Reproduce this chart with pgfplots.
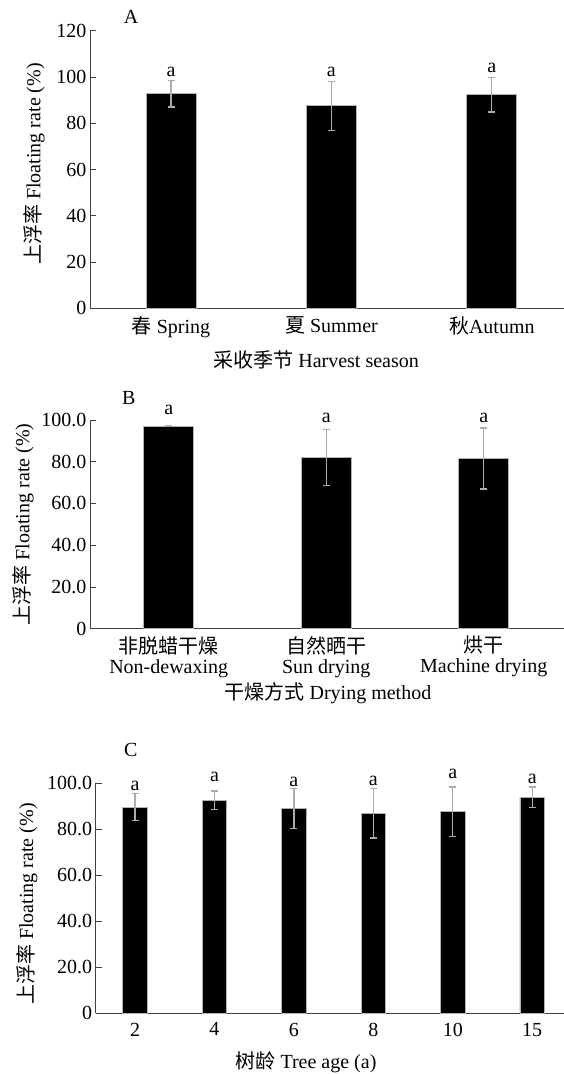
\documentclass[border=0pt]{standalone}
\usepackage{pgfplots}
\pgfplotsset{compat=1.18}
\usepackage{fontspec}
\setmainfont{Liberation Serif}
\newfontfamily\cjk{Noto Sans CJK SC}

\pgfplotstableread{
x y e
0 92.7 5.7
1 87.5 10.5
2 92.3 7.4
}\dataA
\pgfplotstableread{
x y e
0 97.1 0.3
1 82.0 13.5
2 81.5 14.6
}\dataB
\pgfplotstableread{
x y e
0 89.7 6.0
1 92.6 4.1
2 89.1 8.6
3 87.0 10.8
4 87.6 10.8
5 93.9 4.5
}\dataC

\pgfplotsset{
  myaxis/.style={
    scale only axis,
    axis x line*=bottom, axis y line*=left,
    axis line style={black!75, line width=0.9bp},
    every tick/.style={black!75, line width=0.9bp},
    tick align=inside, major tick length=6bp,
    x tick style={draw=none},
    xtick=data, ymin=0,
    clip=false,
    /pgf/number format/assume math mode=true,
    ylabel={{\cjk 上浮率} Floating rate (\%)},
  },
  mybars/.style={
    ybar, fill=black, draw=gray!60, line width=0.8bp, bar width=#1,
    error bars/.cd, y dir=both, y explicit,
    error bar style={gray!65, line width=1.3bp},
    error mark options={rotate=90, gray!65, mark size=3.5bp, line width=1.3bp},
  },
}

\begin{document}
\begin{tikzpicture}[font=\fontsize{20bp}{22bp}\selectfont]
\path[use as bounding box] (0,0) rectangle (564bp,-1074bp);

% Panel A
\begin{axis}[myaxis,
  at={(90bp,-308.3bp)}, anchor=south west,
  width=474bp, height=277.6bp,
  xmin=-0.505, xmax=2.45, ymax=120,
  ytick={0,20,40,60,80,100,120},
  xticklabel style={yshift=-5bp},
  xticklabels={{{\cjk 春} Spring},{{\cjk 夏} Summer},{{\cjk 秋}Autumn}},
  xlabel={{\cjk 采收季节} Harvest season},
  ylabel style={at={(axis description cs:-0.118,0.52)}, anchor=center},
  xlabel style={at={(axis description cs:0.477,-0.186)}, anchor=center},
]
\addplot[mybars=50bp] table[x=x, y=y, y error=e] {\dataA};
\node at (axis cs:0,102.3) {a};
\node at (axis cs:1,102.3) {a};
\node at (axis cs:2,103.8) {a};
\node at (rel axis cs:0.0865,1.049) {A};
\end{axis}

% Panel B
\begin{axis}[myaxis,
  at={(90bp,-628.7bp)}, anchor=south west,
  width=474bp, height=208.7bp,
  xmin=-0.50, xmax=2.51, ymax=100,
  ytick={0,20,40,60,80,100},
  yticklabels={0,20.0,40.0,60.0,80.0,100.0},
  xticklabel style={align=center, font=\fontsize{20bp}{20bp}\selectfont, yshift=-4bp},
  xticklabels={{{\cjk 非脱蜡干燥}\\Non-dewaxing},{{\cjk 自然晒干}\\Sun drying},{{\cjk 烘干}\\Machine drying}},
  xlabel={{\cjk 干燥方式} Drying method},
  ylabel style={at={(axis description cs:-0.141,0.5)}, anchor=center},
  xlabel style={at={(axis description cs:0.502,-0.308)}, anchor=center},
]
\addplot[mybars=50bp] table[x=x, y=y, y error=e] {\dataB};
\node at (axis cs:0,104.8) {a};
\node at (axis cs:1,100.8) {a};
\node at (axis cs:2,100.8) {a};
\node at (rel axis cs:0.082,1.105) {B};
\end{axis}

% Panel C
\begin{axis}[myaxis,
  at={(95.7bp,-1013.3bp)}, anchor=south west,
  width=468.3bp, height=230bp,
  xmin=-0.495, xmax=5.40, ymax=100,
  ytick={0,20,40,60,80,100},
  yticklabels={0,20.0,40.0,60.0,80.0,100.0},
  xticklabel style={yshift=-6bp},
  xticklabels={2,4,6,8,10,15},
  xlabel={{\cjk 树龄} Tree age (a)},
  ylabel style={at={(axis description cs:-0.147,0.475)}, anchor=center},
  xlabel style={at={(axis description cs:0.449,-0.212)}, anchor=center},
]
\addplot[mybars=24.5bp] table[x=x, y=y, y error=e] {\dataC};
\node at (axis cs:0,99.0) {a};
\node at (axis cs:1,102.9) {a};
\node at (axis cs:2,100.4) {a};
\node at (axis cs:3,101.0) {a};
\node at (axis cs:4,103.9) {a};
\node at (axis cs:5,101.7) {a};
\node at (rel axis cs:0.075,1.145) {C};
\end{axis}
\end{tikzpicture}
\end{document}
